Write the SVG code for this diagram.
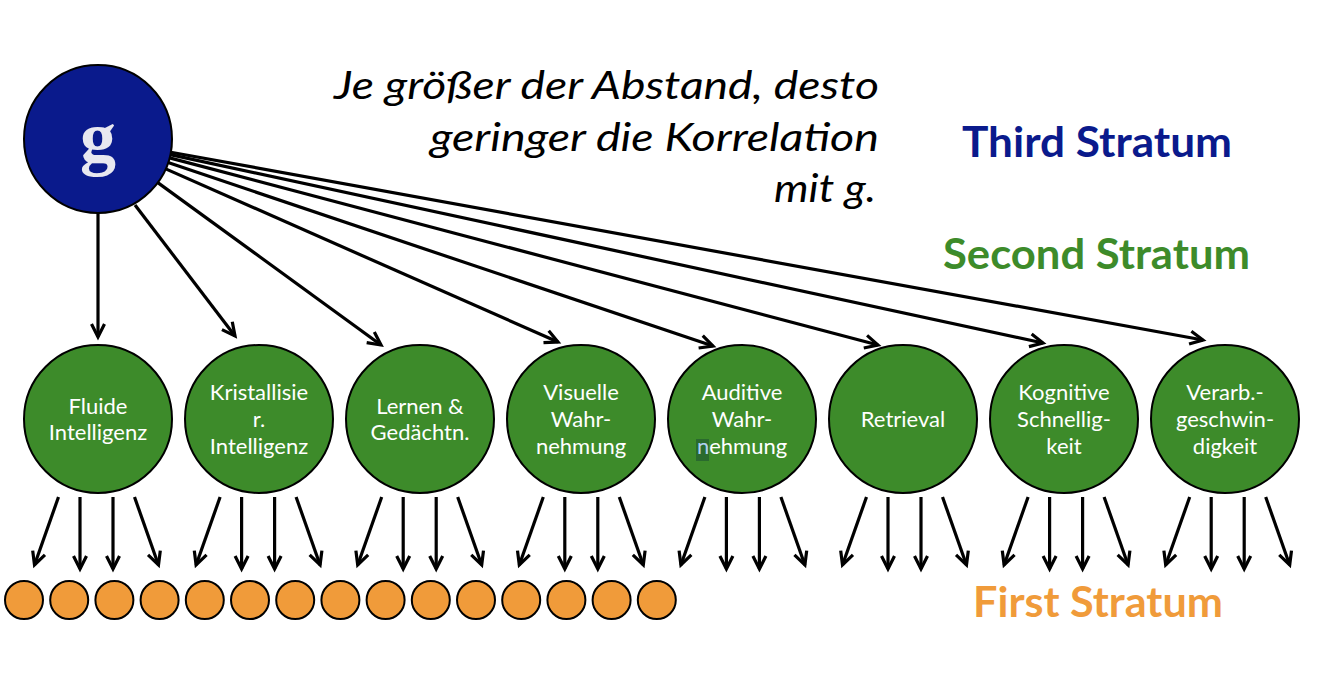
<svg xmlns="http://www.w3.org/2000/svg" width="1334" height="700" viewBox="0 0 1334 700">
<style>
.bg{fill:#ffffff}
.gnode{fill:#0a1a8c;stroke:#000;stroke-width:2}
.snode{fill:#3d8b2a;stroke:#000;stroke-width:2}
.fnode{fill:#f09b3a;stroke:#000;stroke-width:2}
.lbl{font-family:Lato,"Open Sans","Liberation Sans",sans-serif;font-size:22px;fill:#ffffff;text-anchor:middle}
.gtxt{font-family:"Liberation Serif","DejaVu Serif",serif;font-weight:bold;font-size:72px;fill:#e8e8f0;text-anchor:middle}
.note{font-family:Lato,"Open Sans","Liberation Sans",sans-serif;font-style:italic;font-size:38px;fill:#000;text-anchor:end}
.strat{font-family:Lato,"Open Sans","Liberation Sans",sans-serif;font-weight:bold;font-size:42px}
.conn line{stroke:#000;stroke-width:3.2;marker-end:url(#ah)}
</style>
<defs>
<marker id="ah" markerUnits="userSpaceOnUse" markerWidth="20" markerHeight="20" refX="13" refY="7" orient="auto" overflow="visible">
<path d="M0,0.5 L13,7 L0,13.5" fill="none" stroke="#000" stroke-width="3.2" stroke-linejoin="miter"/>
</marker>
</defs>
<rect class="bg" x="0" y="0" width="1334" height="700"/>

<g id="connectors" class="conn">
<line x1="98" y1="213" x2="98" y2="337"/>
<line x1="135" y1="205" x2="235" y2="336"/>
<line x1="157.8" y1="182.6" x2="381" y2="345"/>
<line x1="165.7" y1="168.9" x2="558" y2="342"/>
<line x1="168.1" y1="162.6" x2="713" y2="346"/>
<line x1="169.6" y1="157.9" x2="878" y2="345"/>
<line x1="170.3" y1="154.6" x2="1043" y2="343"/>
<line x1="170.8" y1="152.2" x2="1203" y2="340"/>

<line x1="58.5" y1="497" x2="34.5" y2="565"/>
<line x1="80" y1="497" x2="80" y2="569"/>
<line x1="113" y1="497" x2="113" y2="569"/>
<line x1="134.5" y1="497" x2="158.5" y2="565"/>

<line x1="220.1" y1="497" x2="196.1" y2="565"/>
<line x1="241.6" y1="497" x2="241.6" y2="569"/>
<line x1="274.6" y1="497" x2="274.6" y2="569"/>
<line x1="296.1" y1="497" x2="320.1" y2="565"/>

<line x1="381.7" y1="497" x2="357.7" y2="565"/>
<line x1="403.2" y1="497" x2="403.2" y2="569"/>
<line x1="436.2" y1="497" x2="436.2" y2="569"/>
<line x1="457.7" y1="497" x2="481.7" y2="565"/>

<line x1="543.3" y1="497" x2="519.3" y2="565"/>
<line x1="564.8" y1="497" x2="564.8" y2="569"/>
<line x1="597.8" y1="497" x2="597.8" y2="569"/>
<line x1="619.3" y1="497" x2="643.3" y2="565"/>

<line x1="704.9" y1="497" x2="680.9" y2="565"/>
<line x1="726.4" y1="497" x2="726.4" y2="569"/>
<line x1="759.4" y1="497" x2="759.4" y2="569"/>
<line x1="780.9" y1="497" x2="804.9" y2="565"/>

<line x1="866.5" y1="497" x2="842.5" y2="565"/>
<line x1="888" y1="497" x2="888" y2="569"/>
<line x1="921" y1="497" x2="921" y2="569"/>
<line x1="942.5" y1="497" x2="966.5" y2="565"/>

<line x1="1028.1" y1="497" x2="1004.1" y2="565"/>
<line x1="1049.6" y1="497" x2="1049.6" y2="569"/>
<line x1="1082.6" y1="497" x2="1082.6" y2="569"/>
<line x1="1104.1" y1="497" x2="1128.1" y2="565"/>

<line x1="1189.7" y1="497" x2="1165.7" y2="565"/>
<line x1="1211.2" y1="497" x2="1211.2" y2="569"/>
<line x1="1244.2" y1="497" x2="1244.2" y2="569"/>
<line x1="1265.7" y1="497" x2="1289.7" y2="565"/>
</g>

<g id="node-g">
<circle class="gnode" cx="98" cy="139" r="74"/>
<text class="gtxt" x="98" y="162">g</text>
</g>

<g id="node-fluide">
<circle class="snode" cx="98" cy="419" r="74"/>
<text class="lbl" x="98" y="414">Fluide</text>
<text class="lbl" x="98" y="440">Intelligenz</text>
</g>
<g id="node-kristall">
<circle class="snode" cx="259" cy="419" r="74"/>
<text class="lbl" x="259" y="400">Kristallisie</text>
<text class="lbl" x="259" y="427">r.</text>
<text class="lbl" x="259" y="454">Intelligenz</text>
</g>
<g id="node-lernen">
<circle class="snode" cx="420" cy="419" r="74"/>
<text class="lbl" x="420" y="414">Lernen &amp;</text>
<text class="lbl" x="420" y="440">Gedächtn.</text>
</g>
<g id="node-visuell">
<circle class="snode" cx="581" cy="419" r="74"/>
<text class="lbl" x="581" y="400">Visuelle</text>
<text class="lbl" x="581" y="427">Wahr-</text>
<text class="lbl" x="581" y="454">nehmung</text>
</g>
<g id="node-auditiv">
<circle class="snode" cx="742" cy="419" r="74"/>
<rect x="696" y="439" width="13" height="22" fill="#2a6a2e"/>
<text class="lbl" x="742" y="400">Auditive</text>
<text class="lbl" x="742" y="427">Wahr-</text>
<text class="lbl" x="742" y="454"><tspan fill="#b0d0f0">n</tspan>ehmung</text>
</g>
<g id="node-retrieval">
<circle class="snode" cx="903" cy="419" r="74"/>
<text class="lbl" x="903" y="427">Retrieval</text>
</g>
<g id="node-kognitiv">
<circle class="snode" cx="1064" cy="419" r="74"/>
<text class="lbl" x="1064" y="400">Kognitive</text>
<text class="lbl" x="1064" y="427">Schnellig-</text>
<text class="lbl" x="1064" y="454">keit</text>
</g>
<g id="node-verarb">
<circle class="snode" cx="1225" cy="419" r="74"/>
<text class="lbl" x="1225" y="400">Verarb.-</text>
<text class="lbl" x="1225" y="427">geschwin-</text>
<text class="lbl" x="1225" y="454">digkeit</text>
</g>

<g id="first-stratum-nodes">
<circle class="fnode" cx="24" cy="600" r="19"/>
<circle class="fnode" cx="69.2" cy="600" r="19"/>
<circle class="fnode" cx="114.4" cy="600" r="19"/>
<circle class="fnode" cx="159.6" cy="600" r="19"/>
<circle class="fnode" cx="204.8" cy="600" r="19"/>
<circle class="fnode" cx="250" cy="600" r="19"/>
<circle class="fnode" cx="295.2" cy="600" r="19"/>
<circle class="fnode" cx="340.4" cy="600" r="19"/>
<circle class="fnode" cx="385.6" cy="600" r="19"/>
<circle class="fnode" cx="430.8" cy="600" r="19"/>
<circle class="fnode" cx="476" cy="600" r="19"/>
<circle class="fnode" cx="521.2" cy="600" r="19"/>
<circle class="fnode" cx="566.4" cy="600" r="19"/>
<circle class="fnode" cx="611.6" cy="600" r="19"/>
<circle class="fnode" cx="656.8" cy="600" r="19"/>
</g>

<g id="note">
<text class="note" x="879" y="99" textLength="545" lengthAdjust="spacingAndGlyphs">Je größer der Abstand, desto</text>
<text class="note" x="879" y="151" textLength="449" lengthAdjust="spacingAndGlyphs">geringer die Korrelation</text>
<text class="note" x="876" y="202" textLength="102" lengthAdjust="spacingAndGlyphs">mit g.</text>
</g>

<g id="labels">
<text class="strat" x="962" y="157" fill="#0a1a8c" textLength="270" lengthAdjust="spacingAndGlyphs">Third Stratum</text>
<text class="strat" x="943" y="269" fill="#3d8b2a" textLength="307" lengthAdjust="spacingAndGlyphs">Second Stratum</text>
<text class="strat" x="973" y="617" fill="#f09b3a" textLength="250" lengthAdjust="spacingAndGlyphs">First Stratum</text>
</g>
</svg>
